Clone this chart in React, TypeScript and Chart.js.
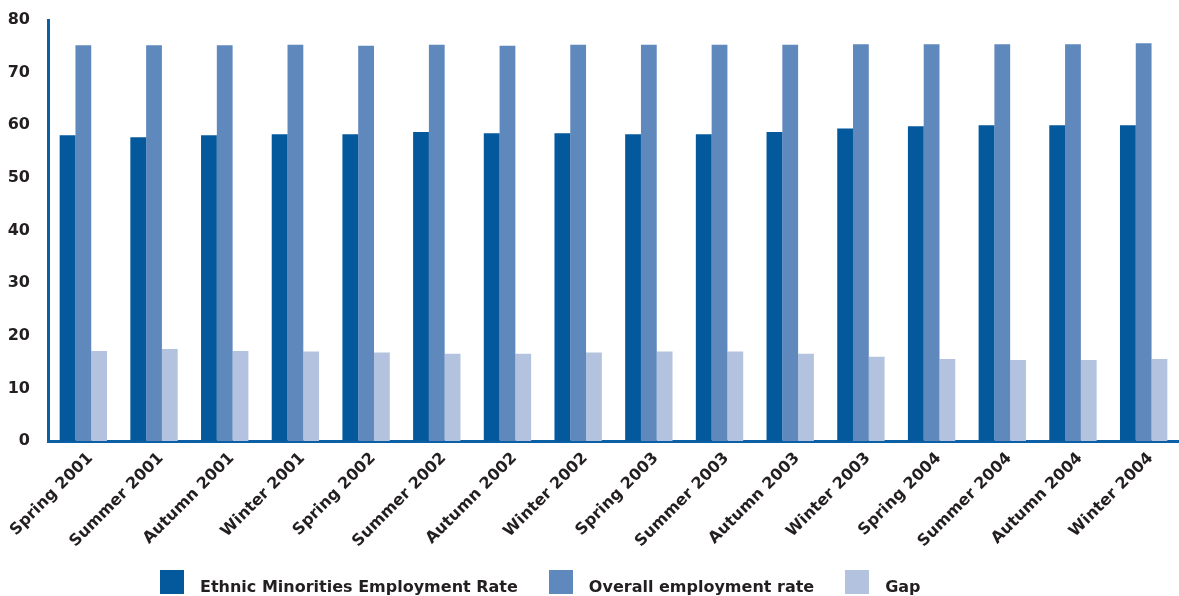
import React, { useEffect, useRef } from "react";
import { Chart, registerables } from "chart.js";

Chart.register(...registerables);

const categories = [
  "Spring 2001", "Summer 2001", "Autumn 2001", "Winter 2001",
  "Spring 2002", "Summer 2002", "Autumn 2002", "Winter 2002",
  "Spring 2003", "Summer 2003", "Autumn 2003", "Winter 2003",
  "Spring 2004", "Summer 2004", "Autumn 2004", "Winter 2004",
];

const ethnicRate = [58.1, 57.7, 58.1, 58.3, 58.3, 58.7, 58.5, 58.5, 58.3, 58.3, 58.7, 59.4, 59.8, 60.0, 60.0, 60.0];
const overallRate = [75.2, 75.2, 75.2, 75.3, 75.1, 75.3, 75.1, 75.3, 75.3, 75.3, 75.3, 75.4, 75.4, 75.4, 75.4, 75.6];
const gapValues = [17.1, 17.5, 17.1, 17.0, 16.8, 16.6, 16.6, 16.8, 17.0, 17.0, 16.6, 16.0, 15.6, 15.4, 15.4, 15.6];

const seriesNames = ["Ethnic Minorities Employment Rate", "Overall employment rate", "Gap"];
const seriesColors = ["#03599c", "#5f88bd", "#b3c3df"];

const yTicks = [0, 10, 20, 30, 40, 50, 60, 70, 80];

const FONT = "'DejaVu Sans', sans-serif";
const TEXT = "#231f20";
const AXIS = "#0b5fa5";

export default function App() {
  const ref = useRef<HTMLCanvasElement | null>(null);

  useEffect(() => {
    if (!ref.current) return;
    const chart = new Chart(ref.current, {
      type: "bar",
      data: {
        labels: categories,
        datasets: [ethnicRate, overallRate, gapValues].map((d, i) => ({
          label: seriesNames[i],
          data: d,
          backgroundColor: seriesColors[i],
          borderWidth: 0,
          categoryPercentage: 0.67,
          barPercentage: 1.0,
        })),
      },
      options: {
        animation: false,
        responsive: false,
        maintainAspectRatio: false,
        layout: { padding: { top: 20, right: 0, bottom: 0, left: 0 } },
        plugins: {
          legend: { display: false },
          tooltip: { enabled: false },
          title: { display: false },
        },
        scales: {
          x: {
            grid: { display: false, drawTicks: false },
            border: { display: true, color: AXIS, width: 3 },
            ticks: {
              color: TEXT,
              font: { family: FONT, weight: "bold", size: 16 },
              minRotation: 45,
              maxRotation: 45,
              autoSkip: false,
              padding: 8,
              labelOffset: 7,
            },
            afterFit: (scale: any) => {
              scale.height = 155;
              scale.paddingLeft = 0;
              scale.paddingRight = 0;
            },
          },
          y: {
            min: 0,
            max: 80,
            afterBuildTicks: (scale: any) => {
              scale.ticks = yTicks.map((v) => ({ value: v }));
            },
            grid: { display: false, drawTicks: false },
            border: { display: true, color: AXIS, width: 3 },
            ticks: {
              color: TEXT,
              font: { family: FONT, weight: "bold", size: 16 },
              padding: 18,
            },
            afterFit: (scale: any) => {
              scale.width = 48;
              scale.paddingTop = 0;
              scale.paddingBottom = 0;
            },
          },
        },
      },
    });
    return () => chart.destroy();
  }, []);

  return (
    <div style={{ position: "fixed", left: 0, top: 0, width: 1179, height: 596, background: "#fff", overflow: "hidden" }}>
      <canvas ref={ref} width={1179} height={596} style={{ display: "block" }} />
      <div
        style={{
          position: "absolute",
          left: 160,
          top: 570,
          display: "flex",
          alignItems: "flex-end",
          fontFamily: FONT,
          fontWeight: "bold",
          fontSize: 16,
          color: TEXT,
          whiteSpace: "nowrap",
        }}
      >
        {seriesNames.map((name, i) => (
          <div key={name} style={{ display: "flex", alignItems: "flex-end", marginRight: 31 }}>
            <span style={{ display: "inline-block", width: 24, height: 24, background: seriesColors[i], marginRight: 16 }} />
            <span style={{ lineHeight: "16px", position: "relative", top: 1 }}>{name}</span>
          </div>
        ))}
      </div>
    </div>
  );
}
